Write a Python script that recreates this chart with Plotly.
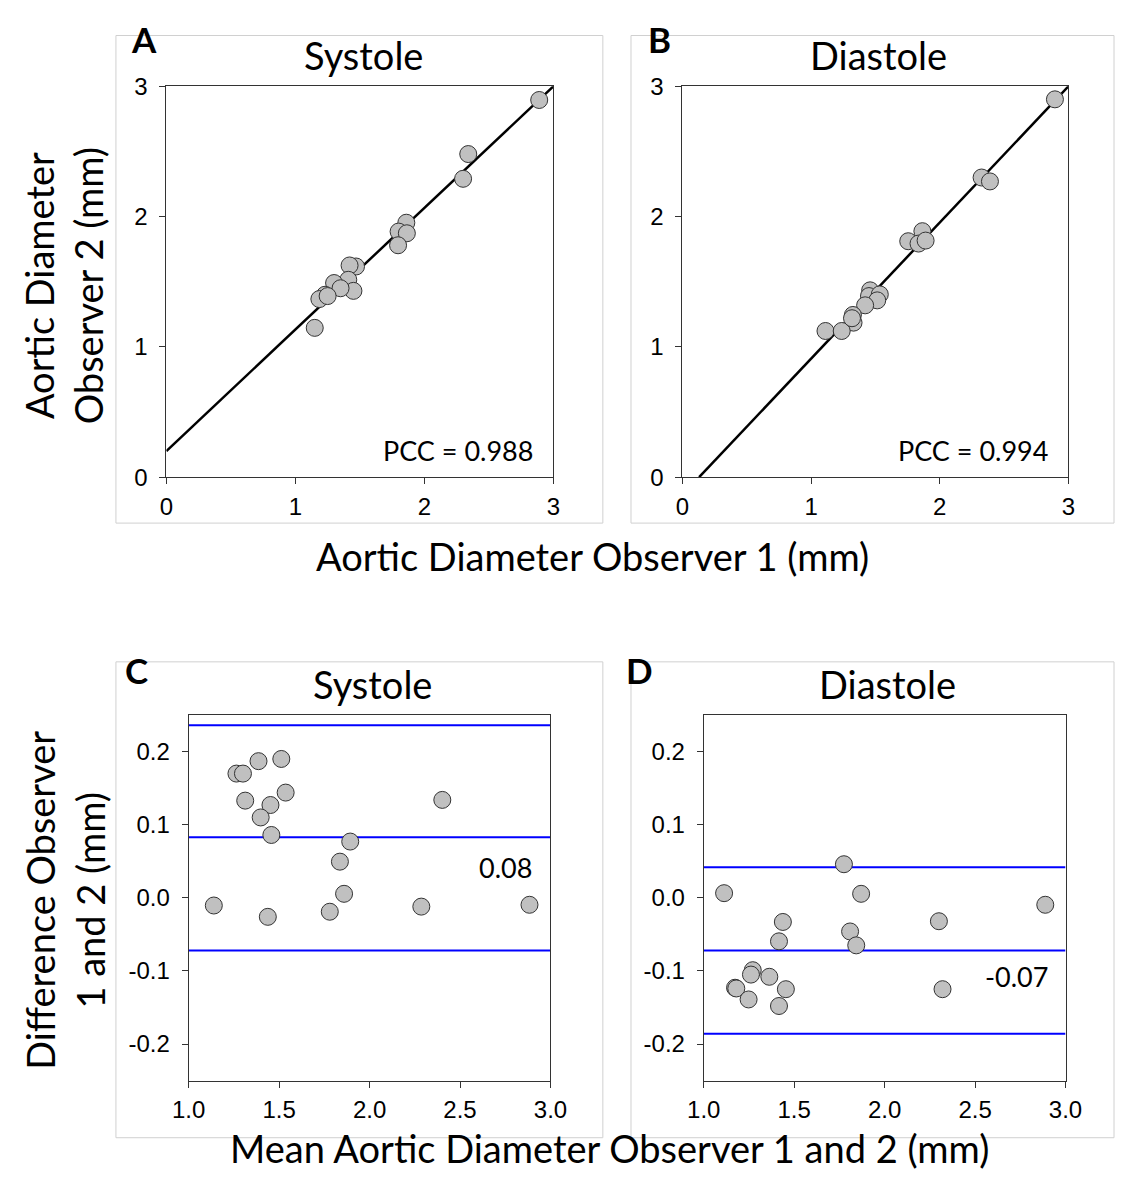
import plotly.graph_objects as go

W, H = 1132, 1182

# ---------------- data ----------------
# Panel A: Systole, observer 1 vs observer 2 (mm)
sys_obs1 = [2.89, 2.34, 2.30, 1.86, 1.80, 1.864, 1.796, 1.47, 1.42, 1.41, 1.30, 1.45, 1.35, 1.23, 1.186, 1.25, 1.15]
sys_obs2 = [2.895, 2.48, 2.29, 1.953, 1.885, 1.872, 1.78, 1.617, 1.625, 1.515, 1.49, 1.43, 1.45, 1.40, 1.367, 1.39, 1.146]
sys_fit_x = [0.0, 3.0]
sys_fit_y = [0.20, 3.0]
sys_pcc = "PCC = 0.988"

# Panel B: Diastole, observer 1 vs observer 2 (mm)
dia_obs1 = [2.895, 2.325, 2.39, 1.865, 1.755, 1.835, 1.89, 1.459, 1.45, 1.534, 1.514, 1.42, 1.325, 1.33, 1.112, 1.238, 1.318]
dia_obs2 = [2.90, 2.30, 2.27, 1.888, 1.811, 1.793, 1.816, 1.434, 1.39, 1.403, 1.357, 1.319, 1.245, 1.186, 1.122, 1.122, 1.22]
dia_fit_x = [0.13, 3.0]
dia_fit_y = [0.0, 3.0]
dia_pcc = "PCC = 0.994"

# Panel C: Systole Bland-Altman (mean vs difference)
sys_mean = [1.139, 1.264, 1.30, 1.386, 1.512, 1.3125, 1.536, 1.452, 1.398, 1.457, 1.4375, 2.402, 1.893, 1.836, 1.859, 1.78, 2.286, 2.884]
sys_diff = [-0.0105, 0.170, 0.170, 0.187, 0.190, 0.133, 0.144, 0.127, 0.110, 0.086, -0.026, 0.134, 0.077, 0.0495, 0.0055, -0.019, -0.012, -0.0095]
sys_limits = [0.236, 0.083, -0.072]   # upper LoA, bias, lower LoA
sys_bias_label = "0.08"

# Panel D: Diastole Bland-Altman
dia_mean = [1.1125, 1.775, 1.87, 2.888, 1.4375, 2.30, 1.809, 1.843, 1.416, 1.271, 1.261, 1.3625, 1.173, 1.18, 1.454, 2.32, 1.248, 1.416]
dia_diff = [0.0064, 0.046, 0.0055, -0.0095, -0.033, -0.032, -0.046, -0.065, -0.0595, -0.099, -0.105, -0.108, -0.123, -0.124, -0.125, -0.125, -0.139, -0.148]
dia_limits = [0.042, -0.072, -0.186]
dia_bias_label = "-0.07"

ba_x_span = [1.0, 3.0]

corr_ticks = [0, 1, 2, 3]
corr_ticktext = ["0", "1", "2", "3"]
ba_xticks = [1.0, 1.5, 2.0, 2.5, 3.0]
ba_xticktext = ["1.0", "1.5", "2.0", "2.5", "3.0"]
ba_yticks = [-0.2, -0.1, 0.0, 0.1, 0.2]
ba_yticktext = ["-0.2", "-0.1", "0.0", "0.1", "0.2"]

# ---------------- styling ----------------
TXT = "Lato"
TICKF = dict(family="Liberation Sans", size=24, color="#000000")
marker = dict(size=17, color="#c0c0c0", line=dict(color="#333333", width=1))


def px(x):
    return x / W


def py(y):
    return 1 - y / H


fig = go.Figure()

# correlation panels
for xa, ya, x1, y2, fx, fy in [("x", "y", sys_obs1, sys_obs2, sys_fit_x, sys_fit_y),
                               ("x2", "y2", dia_obs1, dia_obs2, dia_fit_x, dia_fit_y)]:
    fig.add_trace(go.Scatter(x=fx, y=fy, mode="lines", line=dict(color="#000000", width=2.5),
                             xaxis=xa, yaxis=ya, showlegend=False, hoverinfo="skip"))
    fig.add_trace(go.Scatter(x=x1, y=y2, mode="markers", marker=marker, xaxis=xa, yaxis=ya,
                             showlegend=False, cliponaxis=False))

# Bland-Altman panels
for xa, ya, m, d, lims in [("x3", "y3", sys_mean, sys_diff, sys_limits),
                           ("x4", "y4", dia_mean, dia_diff, dia_limits)]:
    for v in lims:
        fig.add_trace(go.Scatter(x=ba_x_span, y=[v, v], mode="lines", line=dict(color="#0000ff", width=2),
                                 xaxis=xa, yaxis=ya, showlegend=False, hoverinfo="skip"))
    fig.add_trace(go.Scatter(x=m, y=d, mode="markers", marker=marker, xaxis=xa, yaxis=ya,
                             showlegend=False))

axis_common = dict(showline=True, linecolor="#333333", linewidth=1, mirror=True, ticks="outside",
                   ticklen=6, tickcolor="#333333", showgrid=False, zeroline=False, tickfont=TICKF)
xstand = dict(ticklabelstandoff=2)
ystand = dict(ticklabelstandoff=7)

fig.update_layout(
    width=W, height=H, margin=dict(l=0, r=0, t=0, b=0),
    paper_bgcolor="white", plot_bgcolor="white",
    xaxis=dict(domain=[px(154), px(553)], range=[0, 3], tickvals=corr_ticks, ticktext=corr_ticktext,
               anchor="y", **axis_common, **xstand),
    yaxis=dict(domain=[py(474), py(74)], range=[0, 3], tickvals=corr_ticks, ticktext=corr_ticktext,
               anchor="x", **axis_common, **ystand),
    xaxis2=dict(domain=[px(686), px(1084)], range=[0, 3], tickvals=corr_ticks, ticktext=corr_ticktext,
                anchor="y2", **axis_common, **xstand),
    yaxis2=dict(domain=[py(474), py(74)], range=[0, 3], tickvals=corr_ticks, ticktext=corr_ticktext,
                anchor="x2", **axis_common, **ystand),
    xaxis3=dict(domain=[px(177), px(550)], range=[1, 3], tickvals=ba_xticks, ticktext=ba_xticktext,
                anchor="y3", **axis_common, **xstand),
    yaxis3=dict(domain=[py(1091.5), py(717.5)], range=[-0.25, 0.25], tickvals=ba_yticks, ticktext=ba_yticktext,
                anchor="x3", **axis_common, **ystand),
    xaxis4=dict(domain=[px(708), px(1081)], range=[1, 3], tickvals=ba_xticks, ticktext=ba_xticktext,
                anchor="y4", **axis_common, **xstand),
    yaxis4=dict(domain=[py(1091.5), py(717.5)], range=[-0.25, 0.25], tickvals=ba_yticks, ticktext=ba_yticktext,
                anchor="x4", **axis_common, **ystand),
)

# light gray panel frames
for x0, y0, x1, y1 in [(102, 22, 604, 521), (633, 22, 1131, 521), (102, 663, 604, 1150), (633, 663, 1131, 1150)]:
    fig.add_shape(type="rect", xref="paper", yref="paper", x0=px(x0), x1=px(x1), y0=py(y1), y1=py(y0),
                  line=dict(color="#d0d0d0", width=1), fillcolor="rgba(0,0,0,0)", layer="below")

ann = []


def paper_text(text, x, y, size, bold=False, angle=0):
    t = f"<b>{text}</b>" if bold else text
    ann.append(dict(text=t, x=px(x), y=py(y), xref="paper", yref="paper", showarrow=False,
                    xanchor="center", yanchor="middle", textangle=angle,
                    font=dict(family=TXT, size=size, color="#000000")))


paper_text("A", 131, 26, 35, bold=True)
paper_text("B", 662, 26, 35, bold=True)
paper_text("C", 123, 671, 35, bold=True)
paper_text("D", 642, 671, 35, bold=True)
paper_text("Systole", 357, 42, 38)
paper_text("Diastole", 888, 42, 38)
paper_text("Systole", 367, 686, 38)
paper_text("Diastole", 897, 686, 38)
paper_text("Aortic Diameter Observer 1 (mm)", 593, 555, 38)
paper_text("Mean Aortic Diameter Observer 1 and 2 (mm)", 611, 1160, 38)
paper_text("Aortic Diameter<br>Observer 2 (mm)", 48, 278, 38, angle=-90)
paper_text("Difference Observer<br>1 and 2 (mm)", 49, 907, 38, angle=-90)

lab_font = dict(family=TXT, size=27, color="#000000")
ann.append(dict(text=sys_pcc, x=px(454.5), y=py(447), xref="paper", yref="paper", showarrow=False,
                xanchor="center", yanchor="middle", font=lab_font))
ann.append(dict(text=dia_pcc, x=px(986), y=py(447), xref="paper", yref="paper", showarrow=False,
                xanchor="center", yanchor="middle", font=lab_font))
ann.append(dict(text=sys_bias_label, x=2.753, y=0.042, xref="x3", yref="y3", showarrow=False,
                xanchor="center", yanchor="middle", font=lab_font))
ann.append(dict(text=dia_bias_label, x=2.727, y=-0.108, xref="x4", yref="y4", showarrow=False,
                xanchor="center", yanchor="middle", font=lab_font))

fig.update_layout(annotations=ann)
fig.write_html("out.html")
